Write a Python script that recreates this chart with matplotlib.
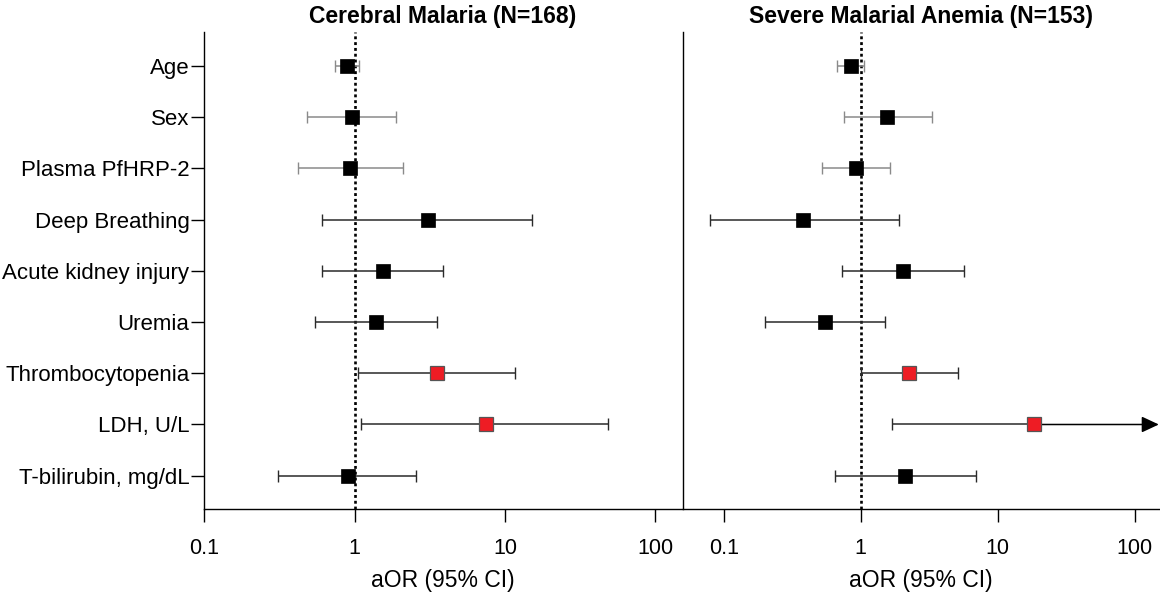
import numpy as np
import matplotlib
matplotlib.use('Agg')
import matplotlib.pyplot as plt

plt.rcParams['font.family'] = ['Liberation Sans', 'DejaVu Sans']

labels = ['Age', 'Sex', 'Plasma PfHRP-2', 'Deep Breathing', 'Acute kidney injury',
          'Uremia', 'Thrombocytopenia', 'LDH, U/L', 'T-bilirubin, mg/dL']

# Cerebral malaria: aOR with 95% CI
cm_or = [0.89, 0.96, 0.93, 3.08, 1.54, 1.39, 3.51, 7.44, 0.90]
cm_lo = [0.74, 0.48, 0.42, 0.61, 0.61, 0.55, 1.05, 1.11, 0.31]
cm_hi = [1.07, 1.90, 2.11, 15.1, 3.85, 3.51, 11.6, 48.5, 2.58]
cm_sig = [False, False, False, False, False, False, True, True, False]

# Severe malarial anemia: aOR with 95% CI (LDH upper bound off scale)
sma_or = [0.85, 1.56, 0.92, 0.38, 2.02, 0.55, 2.26, 18.5, 2.12]
sma_lo = [0.67, 0.75, 0.52, 0.079, 0.73, 0.20, 1.00, 1.68, 0.65]
sma_hi = [1.06, 3.33, 1.63, 1.91, 5.65, 1.50, 5.13, np.nan, 6.97]
sma_sig = [False, False, False, False, False, False, True, True, False]

fig = plt.figure(figsize=(11.6, 5.92), dpi=100)
ax1 = fig.add_axes([0.1759, 0.1402, 0.4120, 0.8063])
ax2 = fig.add_axes([0.5885, 0.1402, 0.4105, 0.8063])


def draw_panel(ax, ors, lo, hi, sig, xlim, title):
    y = np.arange(len(ors))
    ax.set_xscale('log')
    ax.set_xlim(*xlim)
    ax.set_ylim(8.65, -0.67)
    ax.axvline(1, color='black', lw=1.9, ls=(0, (1.1, 1.1)), zorder=2)
    for i in range(len(ors)):
        ecol = '#8a8a8a' if i < 3 else '#2a2a2a'
        if np.isnan(hi[i]):
            ax.errorbar(ors[i], y[i], xerr=[[ors[i] - lo[i]], [0]], fmt='none',
                        ecolor=ecol, elinewidth=1.1, capsize=4.5, capthick=1.0, zorder=3)
            ax.annotate('', xy=(xlim[1], y[i]), xytext=(ors[i], y[i]),
                        xycoords='data', annotation_clip=False,
                        arrowprops=dict(arrowstyle='-|>,head_length=0.75,head_width=0.35',
                                        mutation_scale=14, color='black', lw=1.1,
                                        shrinkA=0, shrinkB=0),
                        zorder=3)
        else:
            ax.errorbar(ors[i], y[i], xerr=[[ors[i] - lo[i]], [hi[i] - ors[i]]], fmt='none',
                        ecolor=ecol, elinewidth=1.1, capsize=4.5, capthick=1.0, zorder=3)
        if sig[i]:
            ax.plot(ors[i], y[i], 's', ms=9.5, mfc='#ee1c24', mec='#555555', mew=0.9, zorder=4)
        else:
            ax.plot(ors[i], y[i], 's', ms=9.5, mfc='black', mec='black', mew=0.5, zorder=4)
    ax.spines['top'].set_visible(False)
    ax.spines['right'].set_visible(False)
    ax.spines['left'].set_linewidth(1.0)
    ax.spines['bottom'].set_linewidth(1.0)
    ax.set_xticks([0.1, 1, 10, 100])
    ax.set_xticklabels(['0.1', '1', '10', '100'])
    ax.xaxis.set_minor_locator(matplotlib.ticker.NullLocator())
    ax.tick_params(axis='x', length=9, width=1.0, labelsize=15.5, pad=12)
    ax.set_xlabel('aOR (95% CI)', fontsize=16.5, labelpad=7)
    ax.set_title(title, fontsize=16.5, fontweight='bold', pad=6)
    return y


y = draw_panel(ax1, cm_or, cm_lo, cm_hi, cm_sig, (0.1, 150), 'Cerebral Malaria (N=168)')
ax1.set_yticks(y)
ax1.set_yticklabels(labels)
ax1.tick_params(axis='y', length=9.5, width=1.0, labelsize=16, pad=1)

draw_panel(ax2, sma_or, sma_lo, sma_hi, sma_sig, (0.0502, 150), 'Severe Malarial Anemia (N=153)')
ax2.set_yticks([])

fig.savefig('out.png', dpi=100)
